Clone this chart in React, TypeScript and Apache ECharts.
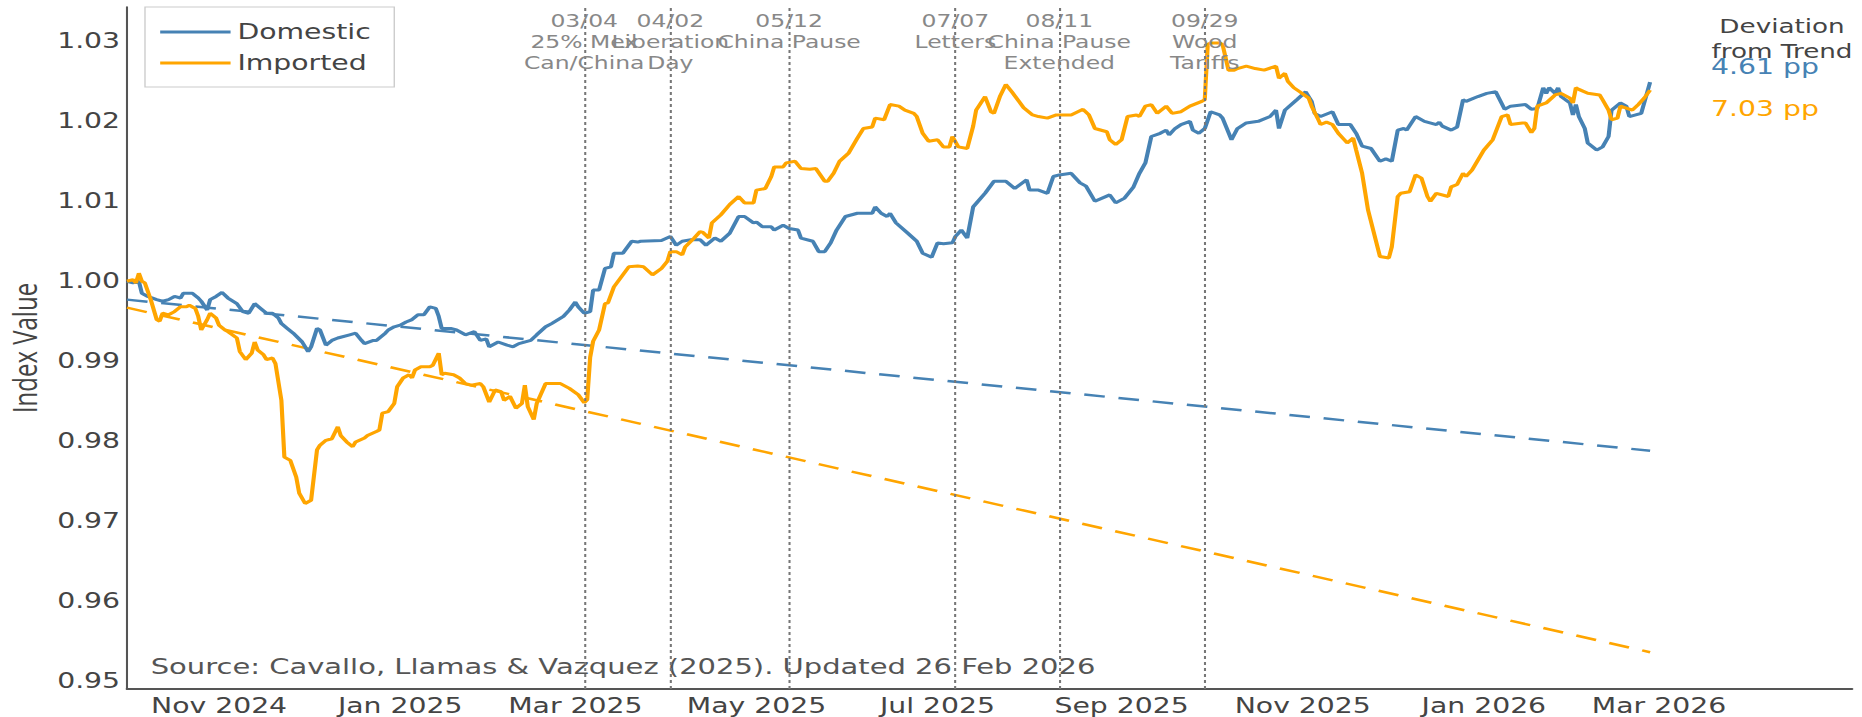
import React, { useEffect, useRef } from "react";
import * as echarts from "echarts";

// ---------------- data ----------------
const domesticSeries: [string, number][] = [
  ["2024-10-01", 1.0], ["2024-10-03", 0.9998], ["2024-10-05", 1.0], ["2024-10-06", 0.9985],
  ["2024-10-08", 0.9981], ["2024-10-11", 0.9977], ["2024-10-13", 0.9975], ["2024-10-15", 0.9977],
  ["2024-10-17", 0.9981], ["2024-10-19", 0.9979], ["2024-10-20", 0.9985], ["2024-10-23", 0.9985],
  ["2024-10-25", 0.9979], ["2024-10-26", 0.9975], ["2024-10-28", 0.9964], ["2024-10-29", 0.9977],
  ["2024-10-31", 0.9981], ["2024-11-02", 0.9986], ["2024-11-04", 0.9979], ["2024-11-07", 0.9972],
  ["2024-11-09", 0.9962], ["2024-11-11", 0.996], ["2024-11-13", 0.9972], ["2024-11-15", 0.9966],
  ["2024-11-17", 0.996], ["2024-11-19", 0.996], ["2024-11-21", 0.9954], ["2024-11-22", 0.9947],
  ["2024-11-24", 0.9941], ["2024-11-26", 0.9935], ["2024-11-29", 0.9924], ["2024-12-01", 0.9912],
  ["2024-12-02", 0.9918], ["2024-12-04", 0.9941], ["2024-12-05", 0.9939], ["2024-12-07", 0.992],
  ["2024-12-09", 0.9926], ["2024-12-11", 0.9929], ["2024-12-15", 0.9933], ["2024-12-17", 0.9935],
  ["2024-12-19", 0.9926], ["2024-12-20", 0.9922], ["2024-12-23", 0.9926], ["2024-12-24", 0.9926],
  ["2024-12-27", 0.9935], ["2024-12-28", 0.9939], ["2024-12-30", 0.9943], ["2025-01-01", 0.9945],
  ["2025-01-03", 0.9949], ["2025-01-05", 0.9952], ["2025-01-07", 0.9958], ["2025-01-09", 0.9958],
  ["2025-01-11", 0.9968], ["2025-01-13", 0.9966], ["2025-01-14", 0.9956], ["2025-01-15", 0.9941],
  ["2025-01-18", 0.9941], ["2025-01-20", 0.9939], ["2025-01-23", 0.9933], ["2025-01-26", 0.9937],
  ["2025-01-28", 0.9926], ["2025-01-30", 0.9928], ["2025-01-31", 0.9918], ["2025-02-03", 0.9924],
  ["2025-02-06", 0.992], ["2025-02-08", 0.9918], ["2025-02-10", 0.9922], ["2025-02-14", 0.9926],
  ["2025-02-16", 0.9933], ["2025-02-19", 0.9943], ["2025-02-21", 0.9947], ["2025-02-25", 0.9956],
  ["2025-02-27", 0.9964], ["2025-03-01", 0.9974], ["2025-03-02", 0.9968], ["2025-03-04", 0.996],
  ["2025-03-06", 0.9962], ["2025-03-07", 0.9989], ["2025-03-09", 0.9989], ["2025-03-11", 1.0016],
  ["2025-03-13", 1.0018], ["2025-03-14", 1.0035], ["2025-03-17", 1.0035], ["2025-03-20", 1.005],
  ["2025-03-22", 1.0049], ["2025-03-23", 1.005], ["2025-03-30", 1.0051], ["2025-04-02", 1.0056],
  ["2025-04-04", 1.0045], ["2025-04-06", 1.005], ["2025-04-09", 1.0052], ["2025-04-12", 1.0052],
  ["2025-04-14", 1.0045], ["2025-04-17", 1.0054], ["2025-04-19", 1.005], ["2025-04-22", 1.006],
  ["2025-04-25", 1.0081], ["2025-04-27", 1.0081], ["2025-04-30", 1.0073], ["2025-05-01", 1.0074],
  ["2025-05-03", 1.0068], ["2025-05-06", 1.0068], ["2025-05-07", 1.0064], ["2025-05-10", 1.007],
  ["2025-05-12", 1.0066], ["2025-05-15", 1.0064], ["2025-05-16", 1.0054], ["2025-05-20", 1.005],
  ["2025-05-22", 1.0037], ["2025-05-24", 1.0037], ["2025-05-26", 1.0048], ["2025-05-28", 1.0064],
  ["2025-05-31", 1.0081], ["2025-06-04", 1.0085], ["2025-06-09", 1.0085], ["2025-06-10", 1.0093],
  ["2025-06-12", 1.0085], ["2025-06-14", 1.0081], ["2025-06-15", 1.0085], ["2025-06-17", 1.0073],
  ["2025-06-21", 1.006], ["2025-06-24", 1.005], ["2025-06-26", 1.0035], ["2025-06-29", 1.003],
  ["2025-07-01", 1.0048], ["2025-07-03", 1.0047], ["2025-07-06", 1.0048], ["2025-07-07", 1.0056],
  ["2025-07-09", 1.0064], ["2025-07-11", 1.0054], ["2025-07-13", 1.0093], ["2025-07-17", 1.011],
  ["2025-07-20", 1.0125], ["2025-07-24", 1.0125], ["2025-07-27", 1.0116], ["2025-07-31", 1.0127],
  ["2025-08-01", 1.0114], ["2025-08-04", 1.0114], ["2025-08-07", 1.011], ["2025-08-09", 1.0131],
  ["2025-08-11", 1.0133], ["2025-08-15", 1.0135], ["2025-08-18", 1.0123], ["2025-08-20", 1.0119],
  ["2025-08-23", 1.01], ["2025-08-28", 1.0108], ["2025-08-30", 1.0098], ["2025-09-02", 1.0104],
  ["2025-09-05", 1.0118], ["2025-09-07", 1.0135], ["2025-09-09", 1.0148], ["2025-09-11", 1.0181],
  ["2025-09-14", 1.0185], ["2025-09-16", 1.0189], ["2025-09-17", 1.0183], ["2025-09-19", 1.0191],
  ["2025-09-21", 1.0196], ["2025-09-24", 1.02], ["2025-09-25", 1.0189], ["2025-09-27", 1.0185],
  ["2025-09-29", 1.0191], ["2025-10-01", 1.0212], ["2025-10-04", 1.0208], ["2025-10-05", 1.0204],
  ["2025-10-08", 1.0177], ["2025-10-10", 1.0191], ["2025-10-13", 1.0198], ["2025-10-17", 1.02],
  ["2025-10-21", 1.0206], ["2025-10-23", 1.0214], ["2025-10-24", 1.0191], ["2025-10-26", 1.0214],
  ["2025-10-30", 1.0227], ["2025-11-02", 1.0237], ["2025-11-04", 1.0225], ["2025-11-05", 1.021],
  ["2025-11-07", 1.0206], ["2025-11-11", 1.0212], ["2025-11-13", 1.0196], ["2025-11-17", 1.0196],
  ["2025-11-19", 1.0185], ["2025-11-21", 1.0169], ["2025-11-24", 1.0166], ["2025-11-27", 1.015],
  ["2025-11-29", 1.0153], ["2025-12-01", 1.015], ["2025-12-03", 1.0189], ["2025-12-05", 1.0191],
  ["2025-12-06", 1.0189], ["2025-12-09", 1.0206], ["2025-12-12", 1.02], ["2025-12-16", 1.0196],
  ["2025-12-17", 1.0199], ["2025-12-18", 1.0194], ["2025-12-21", 1.0189], ["2025-12-23", 1.0193],
  ["2025-12-25", 1.0227], ["2025-12-26", 1.0225], ["2025-12-30", 1.0231], ["2026-01-02", 1.0235],
  ["2026-01-05", 1.0237], ["2026-01-08", 1.0215], ["2026-01-10", 1.0219], ["2026-01-15", 1.0221],
  ["2026-01-17", 1.0215], ["2026-01-19", 1.0216], ["2026-01-21", 1.0242], ["2026-01-22", 1.0235],
  ["2026-01-23", 1.0242], ["2026-01-25", 1.0235], ["2026-01-26", 1.0242], ["2026-01-27", 1.0231],
  ["2026-01-30", 1.0223], ["2026-01-31", 1.0208], ["2026-02-01", 1.0221], ["2026-02-02", 1.0206],
  ["2026-02-04", 1.0191], ["2026-02-05", 1.0173], ["2026-02-08", 1.0164], ["2026-02-10", 1.0168],
  ["2026-02-12", 1.0181], ["2026-02-13", 1.0214], ["2026-02-16", 1.0223], ["2026-02-18", 1.0219],
  ["2026-02-19", 1.0206], ["2026-02-23", 1.021], ["2026-02-24", 1.0223], ["2026-02-26", 1.0249],
];

const importedSeries: [string, number][] = [
  ["2024-10-01", 1.0], ["2024-10-03", 1.0002], ["2024-10-04", 0.9998], ["2024-10-05", 1.001],
  ["2024-10-06", 1.0], ["2024-10-07", 0.9998], ["2024-10-09", 0.9977], ["2024-10-11", 0.9952],
  ["2024-10-12", 0.995], ["2024-10-13", 0.996], ["2024-10-15", 0.9958], ["2024-10-17", 0.9962],
  ["2024-10-19", 0.9968], ["2024-10-21", 0.9968], ["2024-10-22", 0.997], ["2024-10-24", 0.9966],
  ["2024-10-25", 0.9956], ["2024-10-26", 0.9939], ["2024-10-28", 0.9952], ["2024-10-29", 0.996],
  ["2024-10-31", 0.9954], ["2024-11-01", 0.9945], ["2024-11-03", 0.9939], ["2024-11-04", 0.9937],
  ["2024-11-07", 0.9929], ["2024-11-08", 0.9912], ["2024-11-10", 0.9902], ["2024-11-12", 0.991],
  ["2024-11-13", 0.9924], ["2024-11-14", 0.9914], ["2024-11-16", 0.9908], ["2024-11-17", 0.9902],
  ["2024-11-19", 0.9904], ["2024-11-20", 0.9897], ["2024-11-22", 0.9851], ["2024-11-23", 0.978],
  ["2024-11-25", 0.9776], ["2024-11-27", 0.9755], ["2024-11-28", 0.9735], ["2024-11-30", 0.9722],
  ["2024-12-02", 0.9726], ["2024-12-04", 0.9789], ["2024-12-05", 0.9795], ["2024-12-07", 0.9801],
  ["2024-12-09", 0.9803], ["2024-12-11", 0.9818], ["2024-12-12", 0.9807], ["2024-12-14", 0.9799],
  ["2024-12-16", 0.9793], ["2024-12-17", 0.9799], ["2024-12-20", 0.9804], ["2024-12-21", 0.9807],
  ["2024-12-24", 0.9812], ["2024-12-25", 0.9814], ["2024-12-26", 0.9835], ["2024-12-28", 0.9837],
  ["2024-12-30", 0.9847], ["2024-12-31", 0.9868], ["2025-01-02", 0.9879], ["2025-01-04", 0.9883],
  ["2025-01-05", 0.9879], ["2025-01-06", 0.9889], ["2025-01-08", 0.9893], ["2025-01-11", 0.9893],
  ["2025-01-12", 0.9895], ["2025-01-14", 0.991], ["2025-01-15", 0.9883], ["2025-01-16", 0.9885],
  ["2025-01-19", 0.9883], ["2025-01-21", 0.9879], ["2025-01-23", 0.9872], ["2025-01-25", 0.987],
  ["2025-01-28", 0.9872], ["2025-01-29", 0.9868], ["2025-01-31", 0.9849], ["2025-02-02", 0.9864],
  ["2025-02-04", 0.9862], ["2025-02-05", 0.9851], ["2025-02-07", 0.9856], ["2025-02-09", 0.9841],
  ["2025-02-11", 0.9847], ["2025-02-12", 0.987], ["2025-02-13", 0.9843], ["2025-02-15", 0.9827],
  ["2025-02-16", 0.9847], ["2025-02-19", 0.9872], ["2025-02-24", 0.9872], ["2025-02-27", 0.9866],
  ["2025-03-02", 0.9858], ["2025-03-04", 0.9848], ["2025-03-05", 0.9852], ["2025-03-06", 0.9905],
  ["2025-03-07", 0.9925], ["2025-03-09", 0.9939], ["2025-03-11", 0.9972], ["2025-03-12", 0.9973],
  ["2025-03-14", 0.9993], ["2025-03-17", 1.0008], ["2025-03-19", 1.0018], ["2025-03-22", 1.0019],
  ["2025-03-24", 1.0018], ["2025-03-27", 1.0008], ["2025-03-30", 1.0016], ["2025-04-01", 1.0025],
  ["2025-04-02", 1.0037], ["2025-04-04", 1.0037], ["2025-04-06", 1.0033], ["2025-04-07", 1.0043],
  ["2025-04-10", 1.0054], ["2025-04-12", 1.0062], ["2025-04-13", 1.0061], ["2025-04-15", 1.0054],
  ["2025-04-16", 1.0073], ["2025-04-19", 1.0083], ["2025-04-22", 1.0096], ["2025-04-25", 1.0106],
  ["2025-04-27", 1.0098], ["2025-04-30", 1.0098], ["2025-05-01", 1.0114], ["2025-05-04", 1.0116],
  ["2025-05-06", 1.0131], ["2025-05-07", 1.0143], ["2025-05-10", 1.0143], ["2025-05-11", 1.0148],
  ["2025-05-14", 1.015], ["2025-05-16", 1.0141], ["2025-05-19", 1.014], ["2025-05-21", 1.0141],
  ["2025-05-24", 1.0125], ["2025-05-25", 1.0125], ["2025-05-27", 1.0135], ["2025-05-29", 1.015],
  ["2025-06-01", 1.016], ["2025-06-04", 1.0179], ["2025-06-06", 1.0191], ["2025-06-09", 1.0193],
  ["2025-06-10", 1.0204], ["2025-06-13", 1.0202], ["2025-06-15", 1.0221], ["2025-06-18", 1.0219],
  ["2025-06-20", 1.0214], ["2025-06-23", 1.021], ["2025-06-24", 1.0206], ["2025-06-26", 1.0185],
  ["2025-06-28", 1.0175], ["2025-07-01", 1.0177], ["2025-07-03", 1.0168], ["2025-07-05", 1.0168],
  ["2025-07-06", 1.0181], ["2025-07-08", 1.0168], ["2025-07-11", 1.0166], ["2025-07-13", 1.0194],
  ["2025-07-14", 1.0214], ["2025-07-17", 1.0231], ["2025-07-19", 1.0212], ["2025-07-20", 1.021],
  ["2025-07-22", 1.0231], ["2025-07-24", 1.0246], ["2025-07-26", 1.0237], ["2025-07-30", 1.0217],
  ["2025-08-02", 1.0208], ["2025-08-04", 1.0206], ["2025-08-07", 1.0204], ["2025-08-10", 1.0208],
  ["2025-08-15", 1.0208], ["2025-08-19", 1.0215], ["2025-08-21", 1.0208], ["2025-08-23", 1.0191],
  ["2025-08-27", 1.0187], ["2025-08-28", 1.0177], ["2025-08-30", 1.0171], ["2025-09-01", 1.0177],
  ["2025-09-03", 1.0206], ["2025-09-06", 1.0208], ["2025-09-07", 1.0206], ["2025-09-09", 1.0219],
  ["2025-09-11", 1.0221], ["2025-09-13", 1.021], ["2025-09-16", 1.0219], ["2025-09-18", 1.021],
  ["2025-09-21", 1.0212], ["2025-09-24", 1.0219], ["2025-09-28", 1.0225], ["2025-09-29", 1.0227],
  ["2025-09-30", 1.0296], ["2025-10-01", 1.0298], ["2025-10-04", 1.0298], ["2025-10-05", 1.0296],
  ["2025-10-07", 1.0264], ["2025-10-09", 1.0264], ["2025-10-10", 1.0266], ["2025-10-13", 1.0269],
  ["2025-10-16", 1.0266], ["2025-10-19", 1.0264], ["2025-10-23", 1.0269], ["2025-10-24", 1.0254],
  ["2025-10-26", 1.026], ["2025-10-27", 1.025], ["2025-10-29", 1.0242], ["2025-10-31", 1.0237],
  ["2025-11-03", 1.0229], ["2025-11-04", 1.0219], ["2025-11-06", 1.0204], ["2025-11-07", 1.0196],
  ["2025-11-09", 1.0199], ["2025-11-11", 1.0196], ["2025-11-13", 1.0185], ["2025-11-15", 1.0177],
  ["2025-11-16", 1.0173], ["2025-11-18", 1.0179], ["2025-11-19", 1.0164], ["2025-11-21", 1.0135],
  ["2025-11-23", 1.0089], ["2025-11-25", 1.006], ["2025-11-27", 1.0031], ["2025-11-30", 1.0029],
  ["2025-12-01", 1.0043], ["2025-12-03", 1.0106], ["2025-12-04", 1.011], ["2025-12-07", 1.0112],
  ["2025-12-09", 1.0133], ["2025-12-11", 1.0129], ["2025-12-13", 1.0106], ["2025-12-14", 1.01],
  ["2025-12-16", 1.011], ["2025-12-20", 1.0106], ["2025-12-21", 1.0118], ["2025-12-23", 1.0121],
  ["2025-12-25", 1.0135], ["2025-12-26", 1.0131], ["2025-12-28", 1.0139], ["2026-01-01", 1.0164],
  ["2026-01-04", 1.0177], ["2026-01-07", 1.0206], ["2026-01-09", 1.0208], ["2026-01-10", 1.0196],
  ["2026-01-14", 1.0198], ["2026-01-15", 1.0198], ["2026-01-17", 1.0186], ["2026-01-18", 1.0191],
  ["2026-01-19", 1.0219], ["2026-01-22", 1.0223], ["2026-01-25", 1.0233], ["2026-01-27", 1.0235],
  ["2026-01-30", 1.0229], ["2026-01-31", 1.0223], ["2026-02-01", 1.0242], ["2026-02-02", 1.024],
  ["2026-02-05", 1.0235], ["2026-02-09", 1.0233], ["2026-02-10", 1.0227], ["2026-02-12", 1.0214],
  ["2026-02-13", 1.0202], ["2026-02-15", 1.0204], ["2026-02-16", 1.0219], ["2026-02-20", 1.0214],
  ["2026-02-22", 1.0221], ["2026-02-24", 1.0229], ["2026-02-26", 1.0239],
];

const trendDates = ["2024-10-01", "2026-02-26"];
const domesticTrendValues = [0.9977, 0.9788];
const importedTrendValues = [0.9967, 0.9536];

const eventDates = ["2025-03-04", "2025-04-02", "2025-05-12", "2025-07-07", "2025-08-11", "2025-09-29"];
const eventLabels = [
  "03/04\n25% Mex\nCan/China",
  "04/02\nLiberation\nDay",
  "05/12\nChina Pause",
  "07/07\nLetters",
  "08/11\nChina Pause\nExtended",
  "09/29\nWood\nTariffs",
];

const xTickDates = [
  "2024-11-01", "2025-01-01", "2025-03-01", "2025-05-01", "2025-07-01",
  "2025-09-01", "2025-11-01", "2026-01-01", "2026-03-01",
];
const xTickLabels = [
  "Nov 2024", "Jan 2025", "Mar 2025", "May 2025", "Jul 2025",
  "Sep 2025", "Nov 2025", "Jan 2026", "Mar 2026",
];
const yTickValues = [0.95, 0.96, 0.97, 0.98, 0.99, 1.0, 1.01, 1.02, 1.03];

const xRange = ["2024-10-01", "2026-05-05"];
const yRange = [0.949, 1.0343];

const sourceText = "Source: Cavallo, Llamas & Vazquez (2025). Updated 26 Feb 2026";

// ---------------- layout ----------------
const FULL_W = 1862;
const FULL_H = 717;
const STRETCH = 1.38; // reference text/graphics appear horizontally stretched
const W = Math.round(FULL_W / STRETCH);
const S = FULL_W / W;
const fx = (v: number) => v / S; // full-pixel x -> internal x

const BLUE = "#4682B4";
const ORANGE = "#FFA500";
const VERDANA = "'DejaVu Sans', Verdana, sans-serif";
const DAY = 86400000;

function ts(d: string): number {
  const [y, m, dd] = d.split("-").map(Number);
  return Date.UTC(y, m - 1, dd);
}

const xTickTs = xTickDates.map(ts);

export default function App() {
  const ref = useRef<HTMLDivElement>(null);

  useEffect(() => {
    if (!ref.current) return;
    const chart = echarts.init(ref.current, undefined, { renderer: "svg", width: W, height: FULL_H });

    const domesticDev = (domesticSeries[domesticSeries.length - 1][1] - domesticTrendValues[1]) * 100;
    const importedDev = (importedSeries[importedSeries.length - 1][1] - importedTrendValues[1]) * 100;

    const option: any = {
      animation: false,
      backgroundColor: "#ffffff",
      tooltip: { show: false },
      grid: {
        left: fx(127),
        right: W - fx(1852),
        top: 7,
        bottom: 28,
        containLabel: false,
        outerBoundsMode: "none",
      },
      legend: {
        show: true,
        data: [
          { name: "Domestic", icon: "rect" },
          { name: "Imported", icon: "rect" },
        ],
        orient: "vertical",
        left: fx(145),
        top: 7,
        padding: [14.5, 17, 13.5, 11],
        itemGap: 10,
        itemWidth: 51,
        itemHeight: 3,
        borderColor: "#cccccc",
        borderWidth: 1,
        backgroundColor: "#ffffff",
        selectedMode: false,
        textStyle: { color: "#444", fontSize: 20.5, fontFamily: VERDANA },
      },
      xAxis: {
        type: "value",
        min: ts(xRange[0]),
        max: ts(xRange[1]),
        axisLine: { show: true, onZero: false, lineStyle: { color: "#555", width: 2 } },
        axisTick: { show: false },
        splitLine: { show: false },
        axisLabel: {
          customValues: xTickTs,
          hideOverlap: false,
          showMinLabel: true,
          showMaxLabel: true,
          color: "#444",
          fontSize: 20.5,
          fontFamily: VERDANA,
          margin: 6,
          formatter: (v: number) => {
            let best = -1;
            let bd = Infinity;
            xTickTs.forEach((t, i) => {
              const d = Math.abs(t - v);
              if (d < bd) { bd = d; best = i; }
            });
            return best >= 0 && bd < 3 * DAY ? xTickLabels[best] : "";
          },
        },
      },
      yAxis: {
        type: "value",
        min: yRange[0],
        max: yRange[1],
        axisLine: { show: true, onZero: false, lineStyle: { color: "#555", width: 1.5 } },
        axisTick: { show: false },
        splitLine: { show: false },
        axisLabel: {
          customValues: yTickValues,
          showMinLabel: true,
          showMaxLabel: true,
          color: "#444",
          fontSize: 20.5,
          fontFamily: VERDANA,
          margin: 5,
          formatter: (v: number) => Number(v).toFixed(2),
        },
      },
      series: [
        {
          name: "Domestic trend",
          type: "line",
          data: trendDates.map((d, i) => [ts(d), domesticTrendValues[i]]),
          symbol: "none",
          silent: true,
          lineStyle: { color: BLUE, width: 2.5, type: [15, 10] },
          itemStyle: { color: BLUE },
          z: 2,
        },
        {
          name: "Imported trend",
          type: "line",
          data: trendDates.map((d, i) => [ts(d), importedTrendValues[i]]),
          symbol: "none",
          silent: true,
          lineStyle: { color: ORANGE, width: 2.5, type: [15, 10] },
          itemStyle: { color: ORANGE },
          z: 2,
          markLine: {
            silent: true,
            symbol: ["none", "none"],
            label: { show: false },
            lineStyle: { color: "#777", width: 1.5, type: [3, 3] },
            data: eventDates.map((d) => ({ xAxis: ts(d) })),
          },
        },
        {
          name: "Domestic",
          type: "line",
          data: domesticSeries.map(([d, v]) => [ts(d), v]),
          symbol: "none",
          showSymbol: false,
          silent: true,
          lineStyle: { color: BLUE, width: 3 },
          itemStyle: { color: BLUE },
          z: 3,
        },
        {
          name: "Imported",
          type: "line",
          data: importedSeries.map(([d, v]) => [ts(d), v]),
          symbol: "none",
          showSymbol: false,
          silent: true,
          lineStyle: { color: ORANGE, width: 3 },
          itemStyle: { color: ORANGE },
          z: 4,
        },
      ],
    };

    chart.setOption(option);

    const eventGraphics = eventDates.map((d, i) => {
      const px = chart.convertToPixel({ xAxisIndex: 0 }, ts(d)) as number;
      return {
        type: "text",
        x: px,
        y: 10.3,
        z: 10,
        silent: true,
        style: {
          text: eventLabels[i],
          align: "center",
          verticalAlign: "top",
          fontSize: 17,
          lineHeight: 21,
          fontFamily: VERDANA,
          fill: "#888",
        },
      };
    });

    chart.setOption({
      graphic: [
        ...eventGraphics,
        {
          type: "text",
          x: fx(24),
          y: 348,
          rotation: Math.PI / 2,
          silent: true,
          style: {
            text: "Index Value",
            align: "center",
            verticalAlign: "middle",
            fontSize: 24,
            fontFamily: "'Open Sans', sans-serif",
            fill: "#444",
          },
        },
        {
          type: "text",
          x: fx(1782),
          y: 13.8,
          silent: true,
          style: {
            text: "Deviation\nfrom Trend",
            align: "center",
            verticalAlign: "top",
            fontSize: 19,
            lineHeight: 24.8,
            fontFamily: VERDANA,
            fill: "#444",
          },
        },
        {
          type: "text",
          x: fx(1711),
          y: 67,
          silent: true,
          style: {
            text: `${domesticDev.toFixed(2)} pp`,
            align: "left",
            verticalAlign: "middle",
            fontSize: 20.5,
            fontFamily: VERDANA,
            fill: BLUE,
          },
        },
        {
          type: "text",
          x: fx(1711),
          y: 109,
          silent: true,
          style: {
            text: `${importedDev.toFixed(2)} pp`,
            align: "left",
            verticalAlign: "middle",
            fontSize: 20.5,
            fontFamily: VERDANA,
            fill: ORANGE,
          },
        },
        {
          type: "text",
          x: fx(150.7),
          y: 667,
          silent: true,
          style: {
            text: sourceText,
            align: "left",
            verticalAlign: "middle",
            fontSize: 21,
            fontFamily: VERDANA,
            fill: "#555",
          },
        },
      ],
    });

    return () => {
      chart.dispose();
    };
  }, []);

  return (
    <div
      style={{
        position: "fixed",
        left: 0,
        top: 0,
        width: FULL_W,
        height: FULL_H,
        overflow: "hidden",
        background: "#fff",
      }}
    >
      <div
        ref={ref}
        style={{
          width: W,
          height: FULL_H,
          transform: `scaleX(${S})`,
          transformOrigin: "0 0",
        }}
      />
    </div>
  );
}
